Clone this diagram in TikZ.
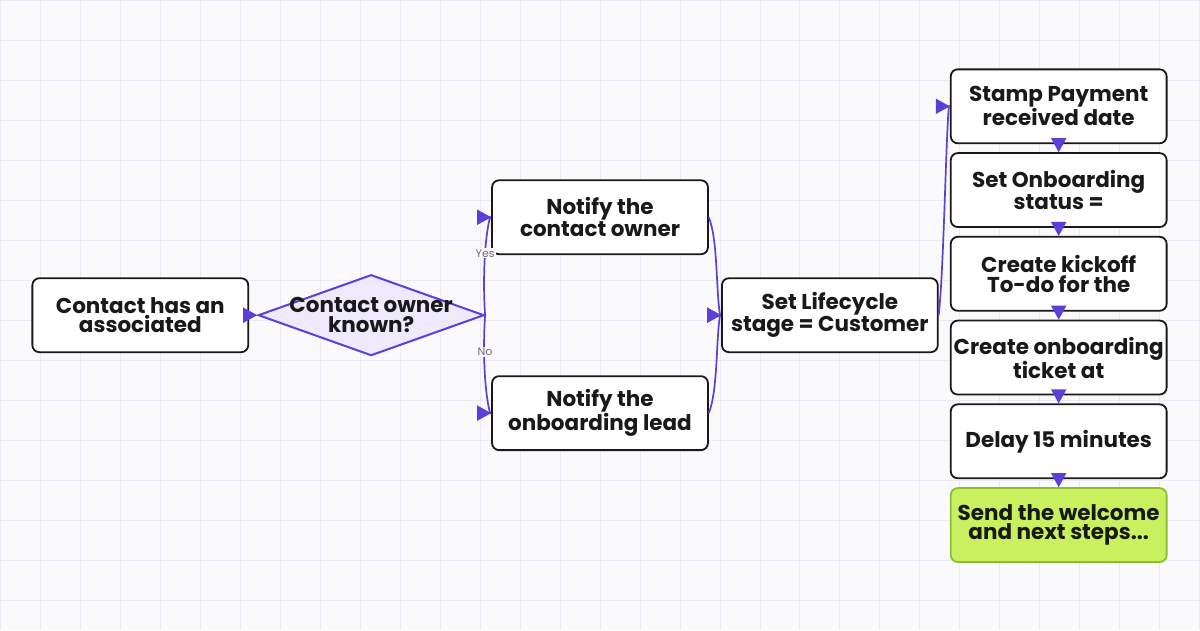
\documentclass[tikz,border=0pt]{standalone}
\usepackage{fontspec}
\setmainfont{Poppins}
\usetikzlibrary{shapes.geometric,arrows.meta,positioning}
\definecolor{bgcolor}{RGB}{250,250,253}
\definecolor{gridcolor}{RGB}{236,234,246}
\definecolor{edgecolor}{RGB}{91,63,217}
\definecolor{decisioncolor}{RGB}{238,233,252}
\definecolor{finalcolor}{RGB}{200,240,95}
\definecolor{finalborder}{RGB}{140,190,50}
\definecolor{labelcolor}{RGB}{110,110,120}

\begin{document}
\begin{tikzpicture}[
    x=1pt, y=-1pt,
    node distance=8pt,
    every node/.style={font=\fontsize{21.5}{19.5}\selectfont\bfseries, align=center, text=black!90},
    action/.style={rectangle, rounded corners=7pt, fill=white, draw=black!90, line width=1.8pt, minimum width=216pt, minimum height=74pt, inner sep=0pt},
    decision/.style={diamond, aspect=2.8, fill=decisioncolor, draw=edgecolor, line width=2pt, minimum width=226pt, minimum height=81pt, inner xsep=-60pt, inner ysep=-15pt},
    final/.style={action, fill=finalcolor, draw=finalborder},
    arrow/.style={-{Triangle[length=14pt,width=15pt]}, edgecolor, line width=1.7pt},
    label/.style={font=\fontsize{11}{11}\selectfont, text=labelcolor, fill=bgcolor, inner sep=1pt}
]

% Background with grid
\fill[bgcolor] (0,0) rectangle (1200,630);
\draw[gridcolor, line width=0.8pt, step=40pt] (0,0) grid (1200,630);
\useasboundingbox (0,0) rectangle (1200,630);

% Trigger and decision
\node[action] (trigger) at (140,315) {Contact has an\\associated};
\node[decision] (known) at (371,315) {Contact owner\\known?};

% Notification branches
\node[action] (owner) at (600,217) {Notify the\\contact owner};
\node[action] (lead) at (600,413) {Notify the\\onboarding lead};

% Lifecycle
\node[action] (lifecycle) at (830,315) {Set Lifecycle\\stage = Customer};

% Onboarding column
\node[action] (stamp) at (1059,106) {Stamp Payment\\received date};
\node[action, below=of stamp] (status) {Set Onboarding\\status =};
\node[action, below=of status] (kickoff) {Create kickoff\\To-do for the};
\node[action, below=of kickoff] (ticket) {Create onboarding\\ticket at};
\node[action, below=of ticket] (delay) {Delay 15 minutes};
\node[final, below=of delay] (welcome) {Send the welcome\\and next steps...};

% Arrows
\draw[arrow] (trigger) -- (known);
\draw[arrow] (known.east) .. controls (482,270) and (486,230) .. ([xshift=-1pt]owner.west) -- (owner.west);
\draw[arrow] (known.east) .. controls (482,360) and (486,400) .. ([xshift=-1pt]lead.west) -- (lead.west);
\draw[arrow] (owner.east) .. controls (718,240) and (716,290) .. ([xshift=-1pt]lifecycle.west) -- (lifecycle.west);
\draw[arrow] (lead.east) .. controls (718,390) and (716,340) .. ([xshift=-1pt]lifecycle.west) -- (lifecycle.west);
\draw[arrow] (lifecycle.east) .. controls (944,270) and (946,140) .. ([xshift=-1pt]stamp.west) -- (stamp.west);
\node[label] at (485,253) {Yes};
\node[label] at (485,352) {No};

\draw[arrow] (stamp) -- (status);
\draw[arrow] (status) -- (kickoff);
\draw[arrow] (kickoff) -- (ticket);
\draw[arrow] (ticket) -- (delay);
\draw[arrow] (delay) -- (welcome);

\end{tikzpicture}
\end{document}
